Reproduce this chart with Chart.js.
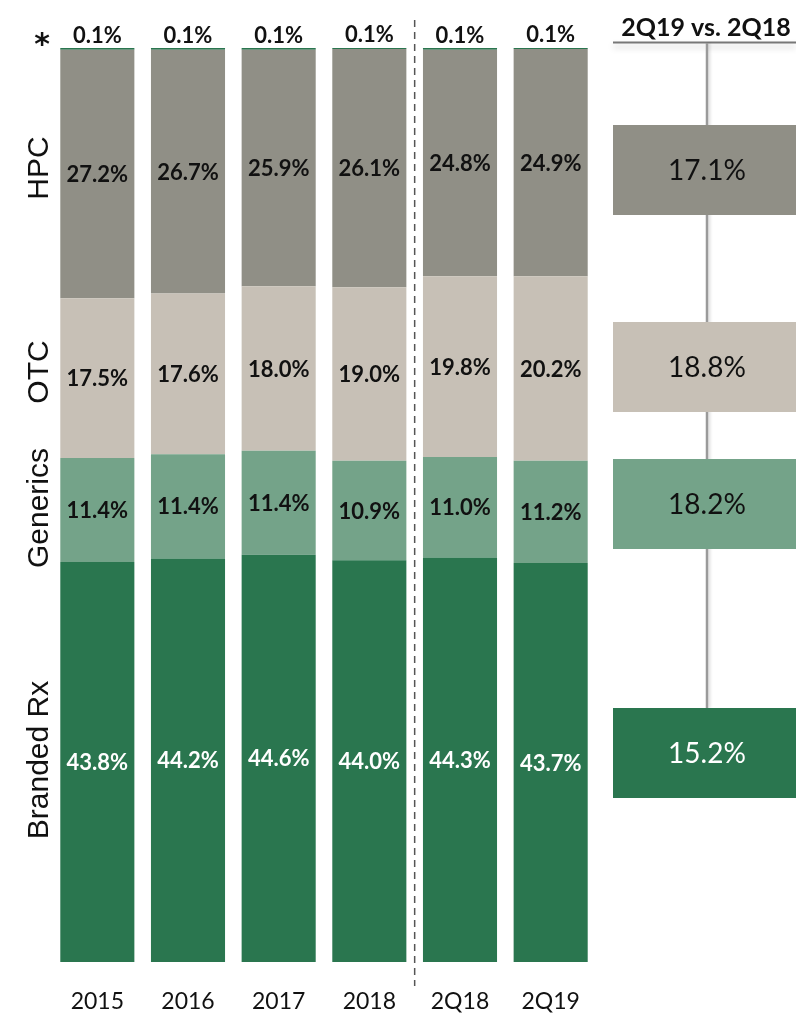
<!DOCTYPE html>
<html>
<head>
<meta charset="utf-8">
<script src="https://cdn.jsdelivr.net/npm/chart.js@4/dist/chart.umd.min.js"></script>
<style>
  html, body { margin: 0; padding: 0; background: #ffffff; }
  #wrap { width: 796px; height: 1013px; position: relative; }
</style>
</head>
<body>
<div id="wrap"><canvas id="mix" width="796" height="1013"></canvas></div>
<script>
// Sales mix by segment, share of total (%)
const periods    = ['2015', '2016', '2017', '2018', '2Q18', '2Q19'];
const brandedRx  = [43.8, 44.2, 44.6, 44.0, 44.3, 43.7];
const generics   = [11.4, 11.4, 11.4, 10.9, 11.0, 11.2];
const otc        = [17.5, 17.6, 18.0, 19.0, 19.8, 20.2];
const hpc        = [27.2, 26.7, 25.9, 26.1, 24.8, 24.9];
const other      = [0.1, 0.1, 0.1, 0.1, 0.1, 0.1];   // marked with *

// Segment names, bottom to top, and year-on-year growth for the quarter
const segmentNames = ['Branded Rx', 'Generics', 'OTC', 'HPC'];
const growthHeader = '2Q19 vs. 2Q18';
const growth       = [15.2, 18.2, 18.8, 17.1];

const COLORS = {
  branded: '#2a764f',
  generics: '#74a389',
  otc: '#c7c0b6',
  hpc: '#908f86'
};
const segColors = [COLORS.branded, COLORS.generics, COLORS.otc, COLORS.hpc];
const segTextColors = ['#ffffff', '#111111', '#111111', '#111111'];

// Vertical bands used for the axis titles and the growth panel
const bands = [
  { labelY: 760, top: 708, bottom: 798 },
  { labelY: 508, top: 459, bottom: 549 },
  { labelY: 372, top: 322, bottom: 412 },
  { labelY: 168, top: 125, bottom: 215 }
];

const fmt = v => v.toFixed(1) + '%';

const decorations = {
  id: 'decorations',
  afterDatasetsDraw(chart) {
    const ctx = chart.ctx;
    const xs = chart.scales.x;
    ctx.save();

    // value labels inside / above the stacks
    chart.data.datasets.forEach((ds, di) => {
      const meta = chart.getDatasetMeta(di);
      meta.data.forEach((bar, i) => {
        const v = ds.data[i];
        ctx.font = 'bold 22px Lato';
        ctx.textAlign = 'center';
        if (di === 4) {
          ctx.fillStyle = '#111111';
          ctx.textBaseline = 'alphabetic';
          ctx.fillText(fmt(v), bar.x, bar.y - 5);
        } else {
          ctx.fillStyle = segTextColors[di];
          ctx.textBaseline = 'middle';
          ctx.fillText(fmt(v), bar.x, (bar.y + bar.base) / 2 + 1);
        }
      });
    });

    // dashed divider between annual and quarterly bars
    const divX = (xs.getPixelForValue(3) + xs.getPixelForValue(4)) / 2;
    ctx.strokeStyle = '#555555';
    ctx.lineWidth = 1.5;
    ctx.setLineDash([7, 5]);
    ctx.beginPath();
    ctx.moveTo(divX, 20);
    ctx.lineTo(divX, 986);
    ctx.stroke();
    ctx.setLineDash([]);

    // rotated segment titles on the left
    ctx.fillStyle = '#111111';
    ctx.font = '30px "Liberation Sans"';
    ctx.textAlign = 'center';
    ctx.textBaseline = 'middle';
    segmentNames.forEach((name, k) => {
      ctx.save();
      ctx.translate(40, bands[k].labelY);
      ctx.rotate(-Math.PI / 2);
      ctx.fillText(name, 0, 0);
      ctx.restore();
    });

    // asterisk for the "other" sliver
    ctx.font = 'bold 30px "DejaVu Sans"';
    ctx.textBaseline = 'alphabetic';
    ctx.fillText('*', 42, 54);

    // growth panel on the right
    const px0 = 613, px1 = 796, axisX = 707;
    ctx.font = 'bold 25px Lato';
    ctx.fillStyle = '#111111';
    ctx.textAlign = 'center';
    ctx.textBaseline = 'alphabetic';
    ctx.fillText(growthHeader, 706, 36);

    ctx.save();
    ctx.shadowColor = 'rgba(0,0,0,0.22)';
    ctx.shadowBlur = 6;
    ctx.shadowOffsetY = 4;
    ctx.strokeStyle = '#777777';
    ctx.lineWidth = 2;
    ctx.beginPath();
    ctx.moveTo(px0, 42.5);
    ctx.lineTo(px1, 42.5);
    ctx.stroke();
    ctx.restore();

    ctx.save();
    ctx.shadowColor = 'rgba(0,0,0,0.15)';
    ctx.shadowBlur = 3;
    ctx.shadowOffsetX = 2;
    ctx.strokeStyle = '#9a9a9a';
    ctx.lineWidth = 2.5;
    ctx.beginPath();
    ctx.moveTo(axisX, 43);
    ctx.lineTo(axisX, bands[0].top);
    ctx.stroke();
    ctx.restore();

    growth.forEach((g, k) => {
      const b = bands[k];
      ctx.fillStyle = segColors[k];
      ctx.fillRect(px0, b.top, px1 - px0, b.bottom - b.top);
      ctx.fillStyle = segTextColors[k];
      ctx.font = '28px Lato';
      ctx.textAlign = 'center';
      ctx.textBaseline = 'middle';
      ctx.fillText(fmt(g), axisX, (b.top + b.bottom) / 2 + 1);
    });

    ctx.restore();
  }
};

const barStyle = { barPercentage: 0.817, categoryPercentage: 1.0, borderWidth: 0 };

new Chart(document.getElementById('mix'), {
  type: 'bar',
  data: {
    labels: periods,
    datasets: [
      { label: 'Branded Rx', data: brandedRx, backgroundColor: COLORS.branded, ...barStyle },
      { label: 'Generics',   data: generics,  backgroundColor: COLORS.generics, ...barStyle },
      { label: 'OTC',        data: otc,       backgroundColor: COLORS.otc, ...barStyle },
      { label: 'HPC',        data: hpc,       backgroundColor: COLORS.hpc, ...barStyle },
      { label: 'Other',      data: other,     backgroundColor: COLORS.branded, ...barStyle, minBarLength: 2 }
    ]
  },
  options: {
    responsive: false,
    animation: false,
    devicePixelRatio: 1,
    layout: { padding: { left: 52, right: 200, top: 48, bottom: 0 } },
    plugins: { legend: { display: false }, tooltip: { enabled: false } },
    scales: {
      x: {
        stacked: true,
        grid: { display: false, drawTicks: false },
        border: { display: false },
        ticks: { color: '#111111', font: { family: 'Lato', size: 23 }, padding: 26, maxRotation: 0 },
        afterFit(scale) { scale.height = 51; }
      },
      y: {
        stacked: true,
        display: false,
        min: 0,
        max: 100.1
      }
    }
  },
  plugins: [decorations]
});
</script>
</body>
</html>
